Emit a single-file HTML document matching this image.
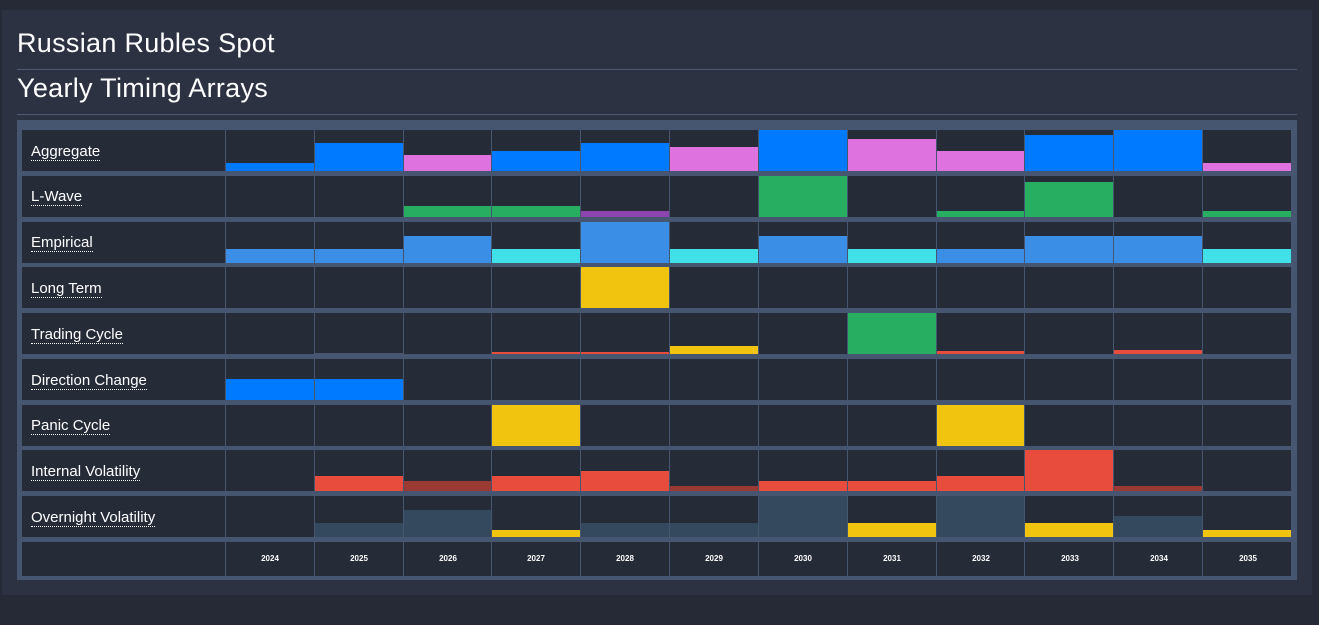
<!DOCTYPE html>
<html><head><meta charset="utf-8"><style>
body{margin:0;width:1319px;height:625px;background:#252a36;font-family:"Liberation Sans",sans-serif;position:relative;overflow:hidden}
.panel{position:absolute;left:2px;top:10px;width:1310px;height:585px;background:#2c3242}
.t{position:absolute;left:17px;color:#fff;font-size:27px;line-height:30px;letter-spacing:0.3px}
.hr{position:absolute;left:17px;width:1280px;height:1px;background:#4c5a74}
.tbl{position:absolute;left:17px;top:120px;width:1280px;height:460px;background:#475670}
.c{position:absolute;background:#262b38;overflow:hidden}
.lab{position:absolute;left:31px;color:#fff;font-size:15px;border-bottom:1px dotted #fff;line-height:17px;z-index:5}
.yr{position:absolute;color:#fff;font-size:8px;font-weight:bold;width:88px;text-align:center;z-index:5}
.b{position:absolute;bottom:0;left:0;right:0}
</style></head><body>
<div class="panel"></div>
<div class="t" style="top:28px">Russian Rubles Spot</div>
<div class="hr" style="top:69px"></div>
<div class="t" style="top:73px">Yearly Timing Arrays</div>
<div class="hr" style="top:114px"></div>
<div class="tbl"></div>
<div id="g"></div>
<div class="lab" style="top:143px">Aggregate</div>
<div class="lab" style="top:188px">L-Wave</div>
<div class="lab" style="top:234px">Empirical</div>
<div class="lab" style="top:280px">Long Term</div>
<div class="lab" style="top:326px">Trading Cycle</div>
<div class="lab" style="top:372px">Direction Change</div>
<div class="lab" style="top:417px">Panic Cycle</div>
<div class="lab" style="top:463px">Internal Volatility</div>
<div class="lab" style="top:509px">Overnight Volatility</div>
<div class="yr" style="left:226px;top:554px">2024</div>
<div class="yr" style="left:315px;top:554px">2025</div>
<div class="yr" style="left:404px;top:554px">2026</div>
<div class="yr" style="left:492px;top:554px">2027</div>
<div class="yr" style="left:581px;top:554px">2028</div>
<div class="yr" style="left:670px;top:554px">2029</div>
<div class="yr" style="left:759px;top:554px">2030</div>
<div class="yr" style="left:848px;top:554px">2031</div>
<div class="yr" style="left:937px;top:554px">2032</div>
<div class="yr" style="left:1026px;top:554px">2033</div>
<div class="yr" style="left:1115px;top:554px">2034</div>
<div class="yr" style="left:1204px;top:554px">2035</div>
<script>
(function(){
var B='#007bff',P='#de73e0',G='#27ae60',V='#8e44ad',E='#3a8ee6',C='#3fe0e8',Y='#f1c40f',R='#e74c3c',D='#9b3a33',S='#34495e',Q='#4a5570';
var data=[
[[8,B],[28,B],[16,P],[20,B],[28,B],[24,P],[41,B],[32,P],[20,P],[36,B],[41,B],[8,P]],
[0,0,[11,G],[11,G],[6,V],0,[41,G],0,[6,G],[35,G],0,[6,G]],
[[14,E],[14,E],[27,E],[14,C],[41,E],[14,C],[27,E],[14,C],[14,E],[27,E],[27,E],[14,C]],
[0,0,0,0,[41,Y],0,0,0,0,0,0,0],
[0,[1,Q],0,[2,R],[2,R],[8,Y],0,[41,G],[3,R],0,[4,R],0],
[[21,B],[21,B],0,0,0,0,0,0,0,0,0,0],
[0,0,0,[41,Y],0,0,0,0,[41,Y],0,0,0],
[0,[15,R],[10,D],[15,R],[20,R],[5,D],[10,R],[10,R],[15,R],[41,R],[5,D],0],
[0,[14,S],[27,S],[7,Y],[14,S],[14,S],[41,S],[14,Y],[41,S],[14,Y],[21,S],[7,Y]]];
var h='',pitch=45.75;
for(var r=0;r<10;r++){
 var ty=Math.round(130+r*pitch), ht=r<9?41:34;
 h+='<div class="c" style="left:22px;top:'+ty+'px;width:203px;height:'+ht+'px"></div>';
 for(var i=0;i<12;i++){
  var x=Math.round(226+i*88.83), w=Math.round(226+(i+1)*88.83)-x-1;
  var inner='';
  if(r<9&&data[r][i]) inner='<div class="b" style="height:'+data[r][i][0]+'px;background:'+data[r][i][1]+'"></div>';
  h+='<div class="c" style="left:'+x+'px;top:'+ty+'px;width:'+w+'px;height:'+ht+'px">'+inner+'</div>';
 }
}
document.getElementById('g').innerHTML=h;
})();
</script>
</body></html>
